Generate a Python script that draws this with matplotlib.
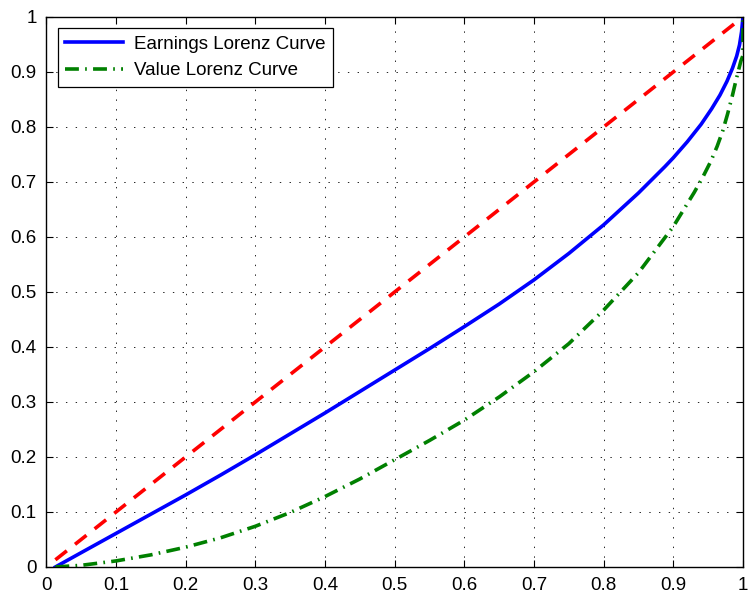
import numpy as np
import matplotlib.pyplot as plt

plt.rcParams['font.family'] = ['Liberation Sans', 'DejaVu Sans']
plt.rcParams['lines.scale_dashes'] = False

# equality line
eq_x = [0.013, 0.993]
eq_y = [0.013, 0.993]

# earnings lorenz curve
earn_x = [0.013, 0.05, 0.1, 0.15, 0.2, 0.25, 0.3, 0.35, 0.4, 0.45, 0.5, 0.55,
          0.6, 0.65, 0.7, 0.75, 0.8, 0.85, 0.888, 0.9, 0.92, 0.94, 0.955,
          0.967, 0.977, 0.985, 0.991, 0.995, 0.998, 1.0]
earn_y = [0.0, 0.026, 0.061, 0.096, 0.131, 0.167, 0.204, 0.242, 0.28, 0.319,
          0.358, 0.397, 0.437, 0.478, 0.522, 0.57, 0.622, 0.68, 0.728, 0.744,
          0.773, 0.805, 0.833, 0.858, 0.883, 0.907, 0.929, 0.949, 0.973, 1.0]

# value lorenz curve
val_x = [0.013, 0.05, 0.1, 0.15, 0.2, 0.25, 0.3, 0.35, 0.4, 0.45, 0.5, 0.55,
         0.6, 0.65, 0.7, 0.75, 0.8, 0.85, 0.9, 0.915, 0.93, 0.942, 0.954,
         0.963, 0.971, 0.978, 0.985, 0.99, 0.994, 0.997, 1.0, 1.0]
val_y = [0.0, 0.003, 0.011, 0.022, 0.036, 0.053, 0.074, 0.099, 0.128, 0.16,
         0.195, 0.23, 0.267, 0.309, 0.355, 0.406, 0.467, 0.535, 0.619, 0.65,
         0.681, 0.708, 0.738, 0.765, 0.793, 0.824, 0.858, 0.885, 0.905, 0.92,
         0.93, 1.0]

ticks = np.arange(0, 1.01, 0.1)
tick_labels = ['0', '0.1', '0.2', '0.3', '0.4', '0.5', '0.6', '0.7', '0.8', '0.9', '1']

fig = plt.figure(figsize=(7.51, 5.96), dpi=100)
ax = fig.add_axes([0.0617, 0.0487, 0.9276, 0.9228])

ax.plot(eq_x, eq_y, color='#ff0000', lw=2.6, linestyle=(0, (10.5, 7.5)))
ax.plot(earn_x, earn_y, color='#0000ff', lw=2.6, label='Earnings Lorenz Curve')
ax.plot(val_x, val_y, color='#008000', lw=2.6,
        linestyle=(0, (10, 4.5, 1.2, 4.5)), label='Value Lorenz Curve')

ax.set_xlim(0, 1)
ax.set_ylim(0, 1)
ax.set_xticks(ticks)
ax.set_yticks(ticks)
ax.set_xticklabels(tick_labels)
ax.set_yticklabels(tick_labels)
ax.tick_params(direction='in', length=5, width=0.8, top=True, right=True,
               labelsize=13.5, colors='black', pad=7)
ax.grid(True, color='black', lw=0.6, linestyle=(0, (1, 6)))
for sp in ax.spines.values():
    sp.set_linewidth(1.0)

leg = ax.legend(loc='upper left', fontsize=13.5, fancybox=False, framealpha=1,
                edgecolor='black', handlelength=3.1, borderaxespad=0.6,
                labelspacing=0.5, handletextpad=0.6)
leg.get_frame().set_linewidth(0.9)

fig.savefig('out.png', dpi=100)
